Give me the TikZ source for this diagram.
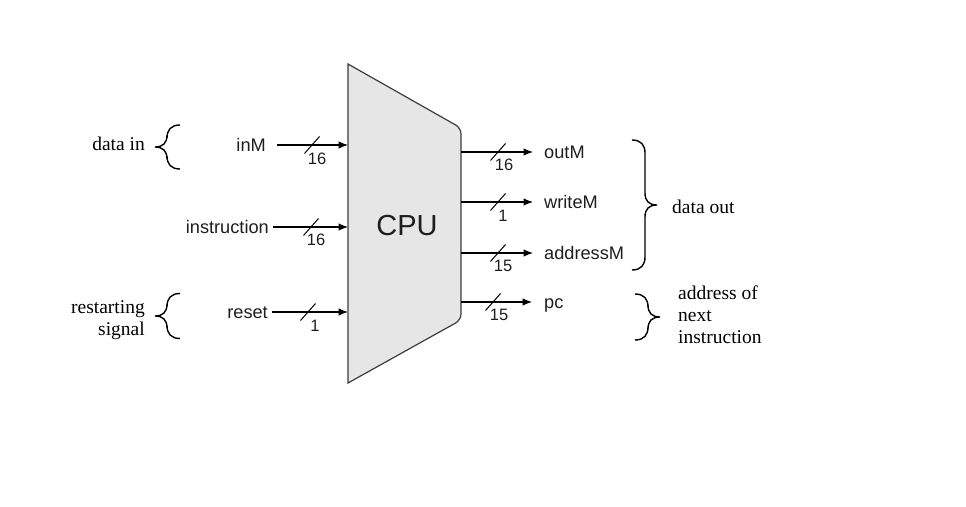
\documentclass[tikz,border=0pt]{standalone}
\usepackage{fontspec}
\setmainfont{Liberation Serif}
\newfontfamily\sansfam{Liberation Sans}
\usetikzlibrary{arrows.meta}
\definecolor{cpufill}{HTML}{E6E6E6}
\definecolor{cpuline}{HTML}{3C3C3C}
\definecolor{labelink}{HTML}{1E1E1E}
\begin{document}
\begin{tikzpicture}[x=1pt,y=-1pt,
  sig/.style={draw=black,line width=1.1pt,-{Latex[length=9.5pt,width=7.5pt]}},
  port/.style={font=\sansfam\fontsize{18.2}{21}\selectfont, text=labelink,
    inner ysep=0pt, inner xsep=4pt, text height=13pt, text depth=0pt},
  buswidth/.style={font=\sansfam\fontsize{16.5}{18}\selectfont, text=labelink, inner sep=0pt},
  note/.style={font=\fontsize{19.5}{22}\selectfont, inner sep=0pt},
  % curly brace with its open ends at x=0, spanning -#1..#1, tip towards +x
  pics/curly/.style={code={
    \draw[line width=1.4pt]
      (0,-#1) .. controls (9,-#1) and (13,-#1+5) .. (13,-#1+13)
      -- (13,-12) .. controls (13,-4) and (17,0) .. (25,0)
      .. controls (17,0) and (13,4) .. (13,12)
      -- (13,#1-13) .. controls (13,#1-5) and (9,#1) .. (0,#1);}},
  pics/slash/.style={code={\draw[line width=1pt] (-7.5,8.5) -- (7.5,-8.5);}}
]
\useasboundingbox (0,0) rectangle (966,506);

% processor body
\filldraw[fill=cpufill, draw=cpuline, line width=1.2pt]
  (348,64) [rounded corners=6pt] -- (461,128) -- (461,320) [sharp corners] -- (348,383) -- cycle;
\node[font=\sansfam\fontsize{29}{31}\selectfont, text=labelink] (cpu) at (407,226) {CPU};

% input ports on the left edge
\coordinate (p-inM)   at (348,145);
\coordinate (p-instr) at (348,227);
\coordinate (p-reset) at (348,312);
% output ports on the right edge
\coordinate (p-outM)  at (461,152);
\coordinate (p-write) at (461,202);
\coordinate (p-addr)  at (461,253);
\coordinate (p-pc)    at (461,302);

% inputs
\node[port, anchor=east] (inM)   at (270,145) {inM};
\node[port, anchor=east] (instr) at (273,227) {instruction};
\node[port, anchor=east] (reset) at (272,312) {reset};
\draw[sig, shorten <=7pt] (inM) -- (p-inM);
\draw[sig] (instr) -- (p-instr);
\draw[sig] (reset) -- (p-reset);
\pic at (312,145) {slash};
\pic at (311,227) {slash};
\pic at (308,312) {slash};
\node[buswidth] (w-inM)   at (317,159) {16};
\node[buswidth] (w-instr) at (316,240) {16};
\node[buswidth] (w-reset) at (315,326) {1};

% outputs
\node[port, anchor=west] (outM)  at (540,152) {outM};
\node[port, anchor=west] (write) at (540,202) {writeM};
\node[port, anchor=west] (addr)  at (540,253) {addressM};
\node[port, anchor=west] (pc)    at (540,302) {pc};
\draw[sig, shorten >=7pt] (p-outM)  -- (outM);
\draw[sig, shorten >=7pt] (p-write) -- (write);
\draw[sig, shorten >=7pt] (p-addr)  -- (addr);
\draw[sig, shorten >=8pt] (p-pc)    -- (pc);
\pic at (498,152) {slash};
\pic at (498,202) {slash};
\pic at (498,253) {slash};
\pic at (493,302) {slash};
\node[buswidth] (w-outM)  at (504,165) {16};
\node[buswidth] (w-write) at (503,216) {1};
\node[buswidth] (w-addr)  at (503,266) {15};
\node[buswidth] (w-pc)    at (499,315) {15};

% grouping braces and their notes
\pic[xscale=-1] at (180,147) {curly=22};
\pic[xscale=-1] at (180,316) {curly=22.5};
\pic at (632,205) {curly=65};
\pic at (635,317) {curly=23};

\node[note, anchor=east] (datain) at (145,144) {data in};
\node[note, anchor=east, align=right] (restart) at (145,320) {restarting\\signal};
\node[note, anchor=west] (dataout) at (672,207) {data out};
\node[note, anchor=west, align=left] (nextaddr) at (678,315) {address of\\next\\instruction};
\end{tikzpicture}
\end{document}
